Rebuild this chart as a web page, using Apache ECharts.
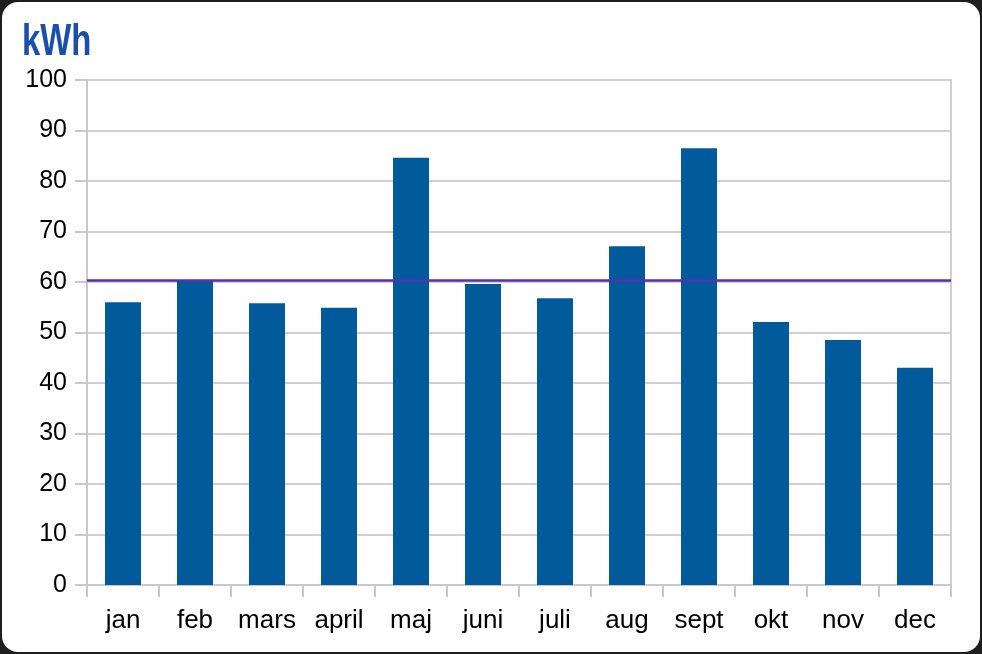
<!DOCTYPE html>
<html>
<head>
<meta charset="utf-8">
<script src="https://cdn.jsdelivr.net/npm/echarts@6/dist/echarts.min.js"></script>
<style>
html,body{margin:0;padding:0;background:#1e1e1e;width:982px;height:654px;overflow:hidden;}
#card{position:absolute;left:2px;top:2px;width:978px;height:650px;background:#fff;border-radius:16px;}
#chart{position:absolute;left:0;top:0;width:982px;height:654px;}
</style>
</head>
<body>
<div id="card"></div>
<div id="chart"></div>
<script>
const categories = ['jan','feb','mars','april','maj','juni','juli','aug','sept','okt','nov','dec'];
const values = [56.0, 60.4, 55.8, 54.9, 84.6, 59.6, 56.8, 67.1, 86.5, 52.1, 48.5, 43.0];
const averageValue = 60.4;
const yTicks = { min: 0, max: 100, interval: 10 };
const unitLabel = 'kWh';

const chart = echarts.init(document.getElementById('chart'), null, {renderer:'canvas'});
chart.setOption({
  backgroundColor: 'transparent',
  animation: false,
  graphic: [{
    type: 'text', left: 22, top: 20, scaleX: 0.73,
    style: { text: unitLabel, fill: '#1a4fae', font: 'bold 45px "Liberation Sans", Arial, sans-serif' }
  }],
  grid: { left: 87, right: 31, top: 80, bottom: 69, show: true, borderColor: '#d0d0d0', borderWidth: 2, backgroundColor: 'transparent' },
  xAxis: {
    type: 'category', data: categories,
    axisLine: { show: true, lineStyle: { color: '#c8c8c8', width: 2 } },
    axisTick: { show: true, interval: 0, length: 12, alignWithLabel: false, lineStyle: { color: '#c8c8c8', width: 2 } },
    axisLabel: { interval: 0, hideOverlap: false, color: '#000', fontSize: 26, fontFamily: '"Liberation Sans", Arial, sans-serif', margin: 23 },
    splitLine: { show: false }
  },
  yAxis: {
    type: 'value', min: yTicks.min, max: yTicks.max, interval: yTicks.interval,
    axisLine: { show: true, lineStyle: { color: '#c8c8c8', width: 2 } },
    axisTick: { show: true, length: 12, lineStyle: { color: '#c8c8c8', width: 2 } },
    axisLabel: { color: '#000', fontSize: 25, fontFamily: '"Liberation Sans", Arial, sans-serif', margin: 20 },
    splitLine: { show: true, lineStyle: { color: '#d0d0d0', width: 2 } }
  },
  series: [{
    type: 'bar', data: values, barWidth: '50%',
    itemStyle: { color: '#005a9b' },
    markLine: {
      silent: true, symbol: ['none','none'], label: { show: false },
      lineStyle: { color: '#5a30b0', width: 2.5, type: 'solid' },
      data: [{ yAxis: averageValue }]
    }
  }]
});
</script>
</body>
</html>
